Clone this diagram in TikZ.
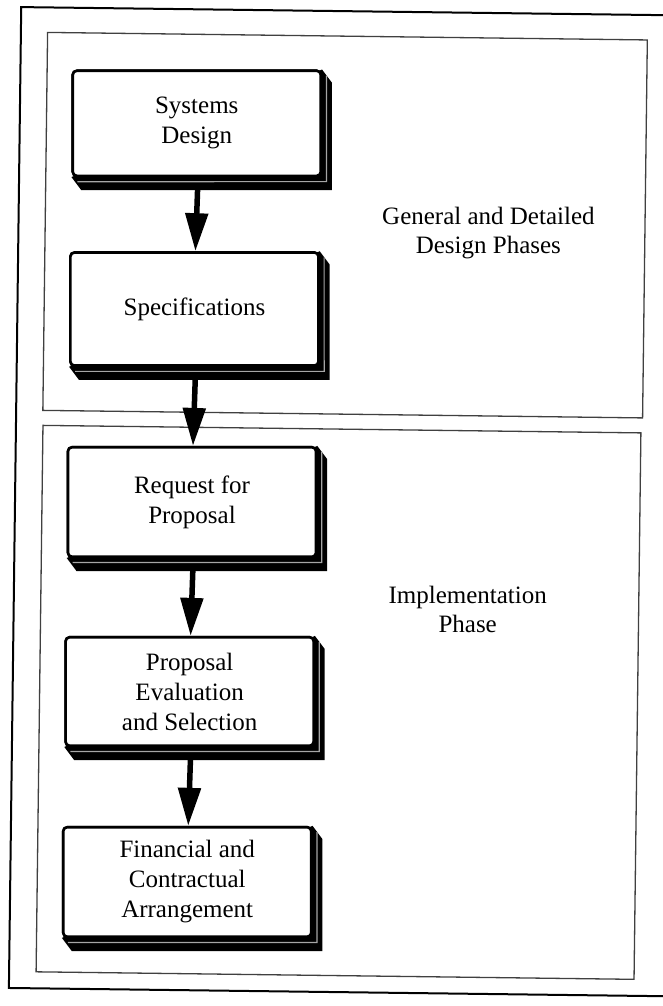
\documentclass[tikz,border=0pt]{standalone}
\usepackage{fontspec}
\setmainfont{Liberation Serif}
\usetikzlibrary{arrows.meta}
\newcommand\extr[1]{%
  \fill[depth] (#1.south west) -- ([shift={(10,13)}]#1.south west) -- ([shift={(10,13)}]#1.south east) -- ([shift={(10,13)}]#1.north east) -- (#1.north east) -- cycle;
  \draw[glint] ([shift={(6,4.5)}]#1.south west) -- ([shift={(4.5,4.5)}]#1.south east) -- ([shift={(4.5,6)}]#1.north east);
}
\begin{document}
\begin{tikzpicture}[x=1pt,y=-1pt,
  stepbox/.style={draw=black, line width=2.6pt, fill=white, rounded corners=4pt, minimum width=248pt, inner sep=0pt, align=center, font=\fontsize{25}{30}\selectfont},
  lbl/.style={align=center, font=\fontsize{25}{29}\selectfont},
  flow/.style={line width=5.5pt, -{Triangle[width=22pt,length=38pt]}},
  panel/.style={draw=black!75, line width=1.3pt},
  depth/.style={fill=black},
  glint/.style={draw=black!35, line width=1.2pt}]
\useasboundingbox (0,0) rectangle (663,1006);
\fill[white] (0,0) rectangle (663,1006);
\clip (0,0) rectangle (663,1006);
\begin{scope}[rotate around={-0.72:(331,503)}]
  \draw[line width=2pt] (15,11) rectangle (672,992);
  \draw[panel] (41.7,36) rectangle (641.5,414);
  \draw[panel] (42,429) rectangle (640,975.5);

  \node[stepbox, minimum height=105pt] (sd) at (192,125) {};
  \extr{sd}
  \node[stepbox, minimum height=105pt] at (192,125) {Systems\\Design};

  \node[stepbox, minimum height=113pt] (sp) at (192,310.75) {};
  \extr{sp}
  \node[stepbox, minimum height=113pt] at (192,310.75) {Specifications};

  \node[stepbox, minimum height=109.5pt] (rp) at (192,503.75) {};
  \extr{rp}
  \node[stepbox, minimum height=109.5pt] at (192,503.75) {Request for\\Proposal};

  \node[stepbox, minimum height=108.5pt] (pe) at (192,693.25) {};
  \extr{pe}
  \node[stepbox, minimum height=108.5pt] at (192,693.25) {Proposal\\Evaluation\\and Selection};

  \node[stepbox, minimum height=109.5pt] (fc) at (192,883.75) {};
  \extr{fc}
  \node[stepbox, minimum height=109.5pt] at (192,883.75) {Financial and\\Contractual\\Arrangement};

  \draw[flow] ([shift={(1,12)}]sd.south) -- ([shift={(1,0)}]sp.north);
  \draw[flow] ([shift={(1,12)}]sp.south) -- ([shift={(1,0)}]rp.north);
  \draw[flow] ([shift={(1,12)}]rp.south) -- ([shift={(1,0)}]pe.north);
  \draw[flow] ([shift={(1,12)}]pe.south) -- ([shift={(1,0)}]fc.north);

  \node[lbl] (gd) at (485,231) {General and Detailed\\Design Phases};
  \node[lbl] (ip) at (469,608) {Implementation\\Phase};
\end{scope}
\end{tikzpicture}
\end{document}
